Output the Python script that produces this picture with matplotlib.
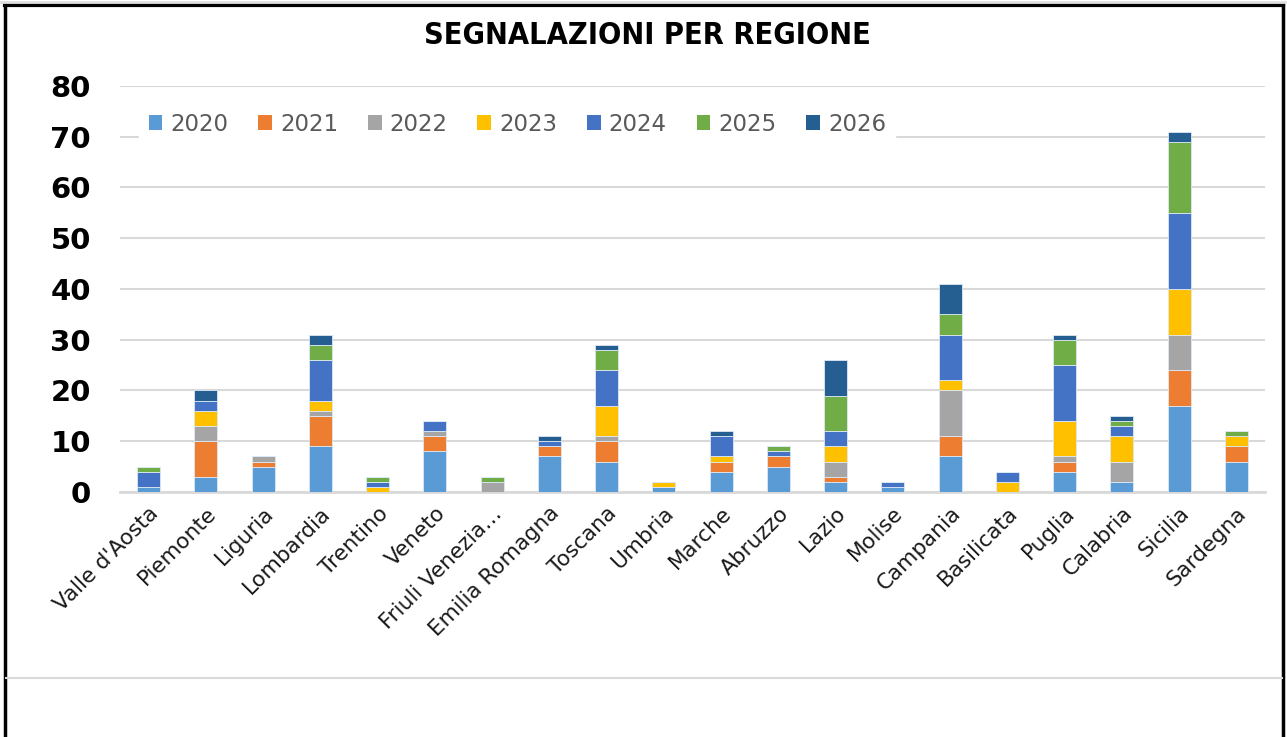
import matplotlib
matplotlib.use("Agg")
import matplotlib.pyplot as plt
from matplotlib.lines import Line2D
from matplotlib.patches import Patch
import numpy as np

regions = ["Valle d'Aosta", "Piemonte", "Liguria", "Lombardia", "Trentino", "Veneto",
           "Friuli Venezia…", "Emilia Romagna", "Toscana", "Umbria", "Marche", "Abruzzo",
           "Lazio", "Molise", "Campania", "Basilicata", "Puglia", "Calabria", "Sicilia", "Sardegna"]
years = ["2020", "2021", "2022", "2023", "2024", "2025", "2026"]

v2020 = [1, 3, 5, 9, 0, 8, 0, 7, 6, 1, 4, 5, 2, 1, 7, 0, 4, 2, 17, 6]
v2021 = [0, 7, 1, 6, 0, 3, 0, 2, 4, 0, 2, 2, 1, 0, 4, 0, 2, 0, 7, 3]
v2022 = [0, 3, 1, 1, 0, 1, 2, 0, 1, 0, 0, 0, 3, 0, 9, 0, 1, 4, 7, 0]
v2023 = [0, 3, 0, 2, 1, 0, 0, 0, 6, 1, 1, 0, 3, 0, 2, 2, 7, 5, 9, 2]
v2024 = [3, 2, 0, 8, 1, 2, 0, 1, 7, 0, 4, 1, 3, 1, 9, 2, 11, 2, 15, 0]
v2025 = [1, 0, 0, 3, 1, 0, 1, 0, 4, 0, 0, 1, 7, 0, 4, 0, 5, 1, 14, 1]
v2026 = [0, 2, 0, 2, 0, 0, 0, 1, 1, 0, 1, 0, 7, 0, 6, 0, 1, 1, 2, 0]
series = [v2020, v2021, v2022, v2023, v2024, v2025, v2026]
colors = ["#5B9BD5", "#ED7D31", "#A5A5A5", "#FFC000", "#4472C4", "#70AD47", "#255E91"]
yticks = [0, 10, 20, 30, 40, 50, 60, 70, 80]

W, H = 1287, 737
fig = plt.figure(figsize=(W / 100, H / 100), dpi=100)
fig.patch.set_facecolor("white")
ax = fig.add_axes([120 / W, 1 - 492 / H, (1265 - 120) / W, (492 - 86) / H])

x = np.arange(len(regions))
bottom = np.zeros(len(regions))
for yr, vals, c in zip(years, series, colors):
    vals = np.array(vals, dtype=float)
    ax.bar(x, vals, bottom=bottom, width=0.4, color=c, edgecolor="#DDE8F5",
           linewidth=0.6, label=yr, zorder=3)
    bottom += vals

ax.set_xlim(-0.5, len(regions) - 0.5)
ax.set_ylim(0, 80)
ax.set_yticks(yticks)
ax.set_yticklabels([str(t) for t in yticks], fontsize=21, fontweight="bold",
                   color="black", family="DejaVu Sans")
ax.yaxis.grid(True, color="#D9D9D9", linewidth=1.5, zorder=0)
ax.set_axisbelow(True)
for s in ["top", "right", "left"]:
    ax.spines[s].set_visible(False)
ax.spines["bottom"].set_color("#D9D9D9")
ax.spines["bottom"].set_linewidth(2)
ax.tick_params(axis="y", length=0, pad=21)
ax.tick_params(axis="x", length=0, pad=8)
ax.set_xticks(x)
ax.set_xticklabels(regions, rotation=45, ha="right", rotation_mode="anchor",
                   fontsize=15.5, color="#1a1a1a", family="DejaVu Sans")

handles = [Patch(facecolor=c, edgecolor="none") for c in colors]
leg = ax.legend(handles, years, loc="center left", bbox_to_anchor=(0.007, 72.5 / 80),
                ncol=7, frameon=True, fontsize=16.5, handlelength=0.6, handleheight=0.6,
                handletextpad=0.35, columnspacing=1.3, borderpad=0.4,
                labelcolor="#595959", borderaxespad=0.5)
leg.get_frame().set_facecolor("white")
leg.get_frame().set_edgecolor("white")
leg.get_frame().set_alpha(1)
leg.set_zorder(5)

fig.text(647 / W, 1 - 36 / H, "SEGNALAZIONI PER REGIONE", ha="center", va="center",
         fontsize=22, fontweight="bold", family="DejaVu Sans", fontstretch="condensed")

# frame
fig.add_artist(Line2D([5 / W, 5 / W], [0, 1 - 5 / H], color="black", lw=2.5))
fig.add_artist(Line2D([5 / W, 1283 / W], [1 - 5 / H, 1 - 5 / H], color="black", lw=3))
fig.add_artist(Line2D([1283 / W, 1283 / W], [0, 1 - 5 / H], color="black", lw=2.5))
fig.add_artist(Line2D([0, 1], [1 - 1.5 / H, 1 - 1.5 / H], color="#E0E0E0", lw=2))
fig.add_artist(Line2D([6 / W, 1282 / W], [1 - 678 / H, 1 - 678 / H], color="#D9D9D9", lw=1.5))

fig.savefig("out.png", dpi=100, facecolor="white")
